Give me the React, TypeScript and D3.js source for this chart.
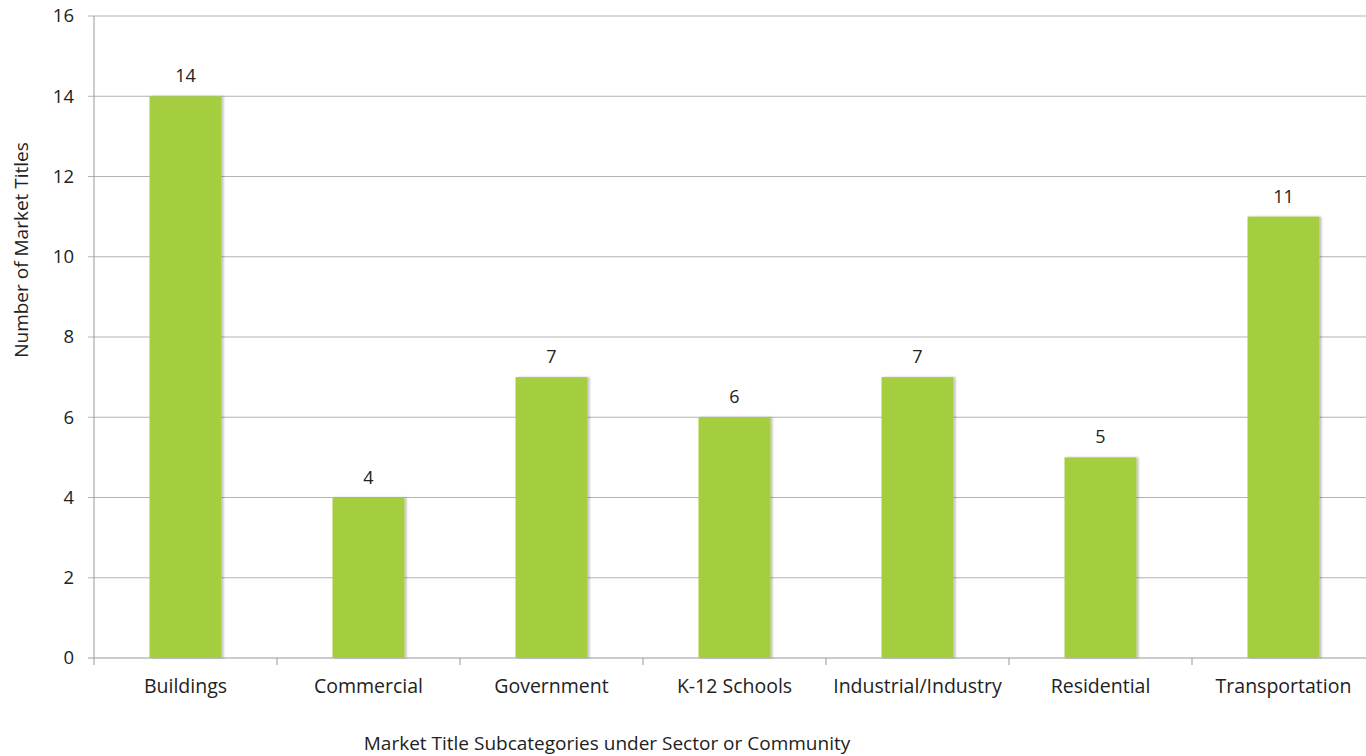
import React from "react";
import * as d3 from "d3";

const categories = ["Buildings", "Commercial", "Government", "K-12 Schools", "Industrial/Industry", "Residential", "Transportation"];
const values = [14, 4, 7, 6, 7, 5, 11];
const yTicks = [0, 2, 4, 6, 8, 10, 12, 14, 16];

export default function App() {
  const W = 1366, H = 756;
  const left = 94, right = 1375, top = 16, bottom = 658;
  const x = d3.scaleBand<string>().domain(categories).range([left, right]).paddingInner(0).paddingOuter(0);
  const y = d3.scaleLinear().domain([0, 16]).range([bottom, top]);
  const barW = 72;
  const font = "'Open Sans', sans-serif";
  return (
    <svg width={W} height={H} style={{ position: "absolute", left: 0, top: 0 }} fontFamily={font}>
      <defs>
        <filter id="sh" x="-20%" y="-5%" width="140%" height="110%">
          <feDropShadow dx="2" dy="0" stdDeviation="1.2" floodColor="#000" floodOpacity="0.25" />
        </filter>
      </defs>
      {yTicks.map((t) => (
        <g key={t}>
          <line x1={left - 6} x2={right} y1={y(t)} y2={y(t)} stroke={t === 0 ? "#999" : "#b3b3b3"} strokeWidth={1} />
          <text x={74} y={y(t)} dy="0.35em" textAnchor="end" fontSize={18.5} fill="#222">{t}</text>
        </g>
      ))}
      <line x1={left} x2={left} y1={top} y2={bottom} stroke="#999" />
      {categories.map((c) => (
        <line key={c} x1={x(c)!} x2={x(c)!} y1={bottom} y2={bottom + 7} stroke="#999" />
      ))}
      {categories.map((c, i) => {
        const cx = x(c)! + x.bandwidth() / 2;
        return (
          <g key={c}>
            <rect x={cx - barW / 2} y={y(values[i])} width={barW} height={bottom - y(values[i])} fill="#A5CD40" filter="url(#sh)" />
            <text x={cx} y={y(values[i]) - 14} textAnchor="middle" fontSize={18} fill="#222">{values[i]}</text>
            <text x={cx} y={693} textAnchor="middle" fontSize={19.5} fill="#222">{c}</text>
          </g>
        );
      })}
      <text transform={`translate(28,250) rotate(-90)`} textAnchor="middle" fontSize={19} fill="#222">Number of Market Titles</text>
      <text x={607} y={750} textAnchor="middle" fontSize={19} fill="#222">Market Title Subcategories under Sector or Community</text>
    </svg>
  );
}
